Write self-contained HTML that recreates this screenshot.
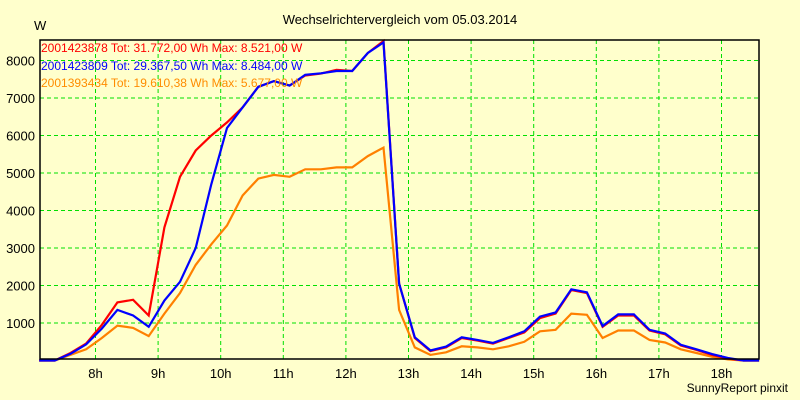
<!DOCTYPE html>
<html><head><meta charset="utf-8"><style>
body{margin:0;background:#ffffcc;}
svg{display:block;font-family:"Liberation Sans",Arial,sans-serif;}
</style></head><body>
<svg id="chart" width="800" height="400" viewBox="0 0 800 400">
<rect x="0" y="0" width="800" height="400" fill="#ffffcc"/>
<text x="400" y="24" font-size="13" text-anchor="middle" fill="#000">Wechselrichtervergleich vom 05.03.2014</text>
<text x="34" y="30" font-size="13" fill="#000">W</text>
<g id="grid"></g>
<g id="yticks"></g>
<g id="xticks"></g>
<g id="series"></g>
<rect x="40" y="40" width="719" height="319" fill="none" stroke="#000" stroke-width="1.5"/>
<g font-size="12">
<text x="41" y="52" fill="#ff0000">2001423878 Tot: 31.772,00 Wh Max: 8.521,00 W</text>
<text x="41" y="70" fill="#0000ff">2001423809 Tot: 29.367,50 Wh Max: 8.484,00 W</text>
<text x="41" y="87" fill="#ff8c00">2001393434 Tot: 19.610,38 Wh Max: 5.677,00 W</text>
</g>
<text x="788" y="392" font-size="12" text-anchor="end" fill="#000">SunnyReport pinxit</text>
</svg>
<script>
const yTicks=[1000,2000,3000,4000,5000,6000,7000,8000];
const xTickHours=[8,9,10,11,12,13,14,15,16,17,18];
const startHour=7.1, stepHour=0.25;
const red=[0,0,200,450,950,1550,1620,1200,3550,4900,5600,6000,6350,6750,7300,7450,7330,7600,7650,7750,7720,8200,8521,2050,600,250,350,600,530,450,600,750,1130,1250,1880,1800,900,1200,1200,800,700,400,280,150,50,0,0];
const blue=[0,0,180,430,850,1350,1200,900,1600,2100,3000,4700,6200,6750,7300,7450,7330,7620,7660,7720,7720,8200,8484,2050,620,270,370,620,550,470,620,780,1170,1280,1900,1820,920,1230,1230,820,720,420,300,170,70,0,0];
const orange=[0,0,150,300,600,930,870,650,1250,1800,2550,3100,3600,4400,4850,4950,4900,5100,5100,5150,5150,5450,5677,1350,350,150,220,380,350,300,380,500,780,820,1250,1220,600,800,800,550,480,300,200,100,30,0,0];
const NS="http://www.w3.org/2000/svg";
function xs(h){return 95.5+(h-8)*62.6;}
function ys(v){return 360.5-v*0.0375;}
const grid=document.getElementById('grid'),yt=document.getElementById('yticks'),xt=document.getElementById('xticks'),ser=document.getElementById('series');
yTicks.forEach(v=>{
const l=document.createElementNS(NS,'line');


l.setAttribute('x1',40);l.setAttribute('x2',759);l.setAttribute('y1',ys(v));l.setAttribute('y2',ys(v));
l.setAttribute('stroke','#00e000');l.setAttribute('stroke-dasharray','4,3');
grid.appendChild(l);
const t=document.createElementNS(NS,'text');


t.setAttribute('x',35);t.setAttribute('y',ys(v)+5);t.setAttribute('text-anchor','end');t.setAttribute('font-size','13');
t.textContent=v;yt.appendChild(t);
});
xTickHours.forEach(h=>{
const l=document.createElementNS(NS,'line');


l.setAttribute('x1',xs(h));l.setAttribute('x2',xs(h));l.setAttribute('y1',40);l.setAttribute('y2',359);
l.setAttribute('stroke','#00e000');l.setAttribute('stroke-dasharray','4,3');
grid.appendChild(l);
const t=document.createElementNS(NS,'text');


t.setAttribute('x',xs(h));t.setAttribute('y',378);t.setAttribute('text-anchor','middle');t.setAttribute('font-size','13');
t.textContent=h+'h';xt.appendChild(t);
});
[[orange,'#ff8000','series-orange'],[red,'#ff0000','series-red'],[blue,'#0000ff','series-blue']].forEach(s=>{
const p=document.createElementNS(NS,'polyline');


p.setAttribute('points',s[0].map((v,i)=>xs(startHour+i*stepHour).toFixed(1)+','+ys(v).toFixed(1)).join(' '));
p.setAttribute('fill','none');p.setAttribute('stroke',s[1]);p.setAttribute('stroke-width','2.2');
ser.appendChild(p);
});
</script>
</body></html>
